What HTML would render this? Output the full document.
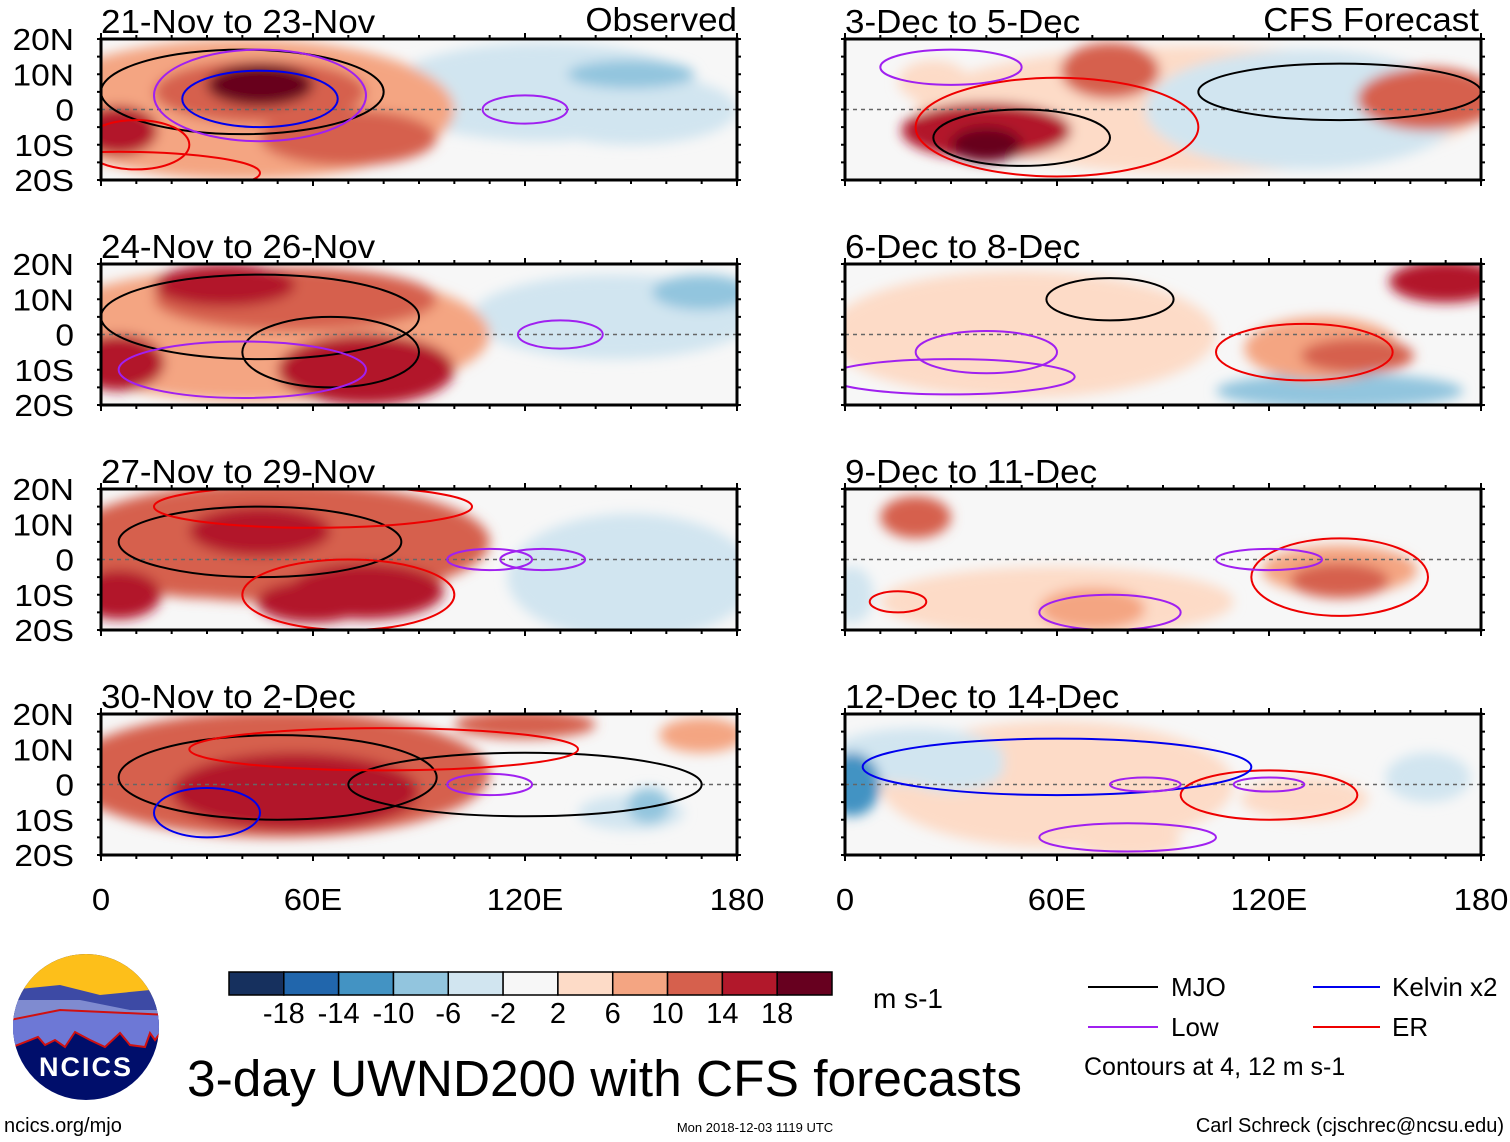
<!DOCTYPE html>
<html><head><meta charset="utf-8">
<style>
body{margin:0;background:#fff;width:1510px;height:1142px;overflow:hidden;font-family:"Liberation Sans",sans-serif;}
svg{position:absolute;left:0;top:0}
</style></head>
<body>
<svg id="chart" width="1510" height="1142" viewBox="0 0 1510 1142" font-family="Liberation Sans, sans-serif">
<defs>
<filter id="blur" x="-50%" y="-50%" width="200%" height="200%"><feGaussianBlur stdDeviation="6"/></filter>
</defs>
<g id="panels"></g>
<g id="bottom"></g>
</svg>
<script>
// ---- data ----
const panelTitles = ["21-Nov to 23-Nov","3-Dec to 5-Dec","24-Nov to 26-Nov","6-Dec to 8-Dec","27-Nov to 29-Nov","9-Dec to 11-Dec","30-Nov to 2-Dec","12-Dec to 14-Dec"];
const latTicks = ["20N","10N","0","10S","20S"];
const latValues = [20,10,0,-10,-20];
const lonTickLabels = ["0","60E","120E","180"];
const lonTickValues = [0,60,120,180];
const colorLevels = [-18,-14,-10,-6,-2,2,6,10,14,18];
const colorbarLabels = ["-18","-14","-10","-6","-2","2","6","10","14","18"];
const palette = ["#16305e","#2166ac","#4393c3","#92c5de","#d1e5f0","#f7f7f7","#fddbc7","#f4a582","#d6604d","#b2182b","#67001f"];
// anomaly blobs: [panel, lon, lat, value, lonRadius, latRadius]
const blobPanel = [0,0,0,0,0,0,0,0, 2,2,2,2,2,2,2,2, 4,4,4,4,4,4,4,4, 6,6,6,6,6,6,6, 1,1,1,1,1,1,1, 3,3,3,3,3,3,3, 5,5,5,5,5,5, 7,7,7,7,7,7,7];
const blobLon   = [40,125,150,45,5,45,150,70, 45,145,170,5,35,75,85,55, 150,50,45,75,5,60,150,30, 50,150,120,170,55,60,155, 100,130,40,75,165,40,25, 50,140,135,170,60,145,20, 60,140,20,2,140,70, 60,20,2,30,130,80,165];
const blobLat   = [0,5,0,5,-6,7,10,-8, 0,5,12,-8,14,-10,-10,10, -5,5,8,-9,-10,-12,-7,-3, 3,-8,17,14,-2,-3,-6, 0,0,-6,11,3,-10,8, 0,-16,-4,15,5,-6,3, -12,-3,12,-10,-6,-14, 0,8,0,5,-4,-16,2];
const blobVal   = [8,-3,-3,13,17,19,-8,11, 9,-3,-10,14,14,17,16,11, -3,10,16,16,17,14,-6,12, 10,-6,12,6,16,17,-9, 3,-3,16,11,13,18,4, 4,-8,9,16,3,12,5, 4,8,10,-6,11,6, 3,-5,-11,-5,5,5,-6];
const blobRx    = [60,45,30,30,11,15,18,25, 65,40,14,13,20,25,14,40, 35,60,20,22,12,16,12,25, 60,15,20,12,35,20,6, 80,45,24,14,20,10,10, 55,35,22,16,40,16,12, 50,22,10,6,14,15, 50,25,8,15,18,15,12];
const blobRy    = [20,14,10,9,7,6,4,8, 19,12,5,8,6,10,8,9, 18,17,7,8,7,6,6,8, 18,5,4,5,11,8,5, 18,17,8,8,9,5,6, 18,5,9,6,10,5,6, 10,7,6,8,5,6, 18,8,9,7,6,5,7];
// contours: [panel, lon, lat, lonRadius, latRadius, type] type 0=MJO 1=Kelvin 2=Low 3=ER
const cPanel=[0,0,0,0,0,0, 2,2,2,2, 4,4,4,4,4, 6,6,6,6,6, 1,1,1,1, 3,3,3,3, 5,5,5,5, 7,7,7,7,7];
const cLon  =[40,45,45,120,10,5, 45,65,130,40, 45,70,110,125,60, 50,110,120,80,30, 50,60,140,30, 40,75,130,30, 140,120,75,15, 120,120,80,60,85];
const cLat  =[5,3,4,0,-10,-18, 5,-5,0,-10, 5,-10,0,0,15, 2,0,0,10,-8, -8,-5,5,12, -5,10,-5,-12, -5,0,-15,-12, -3,0,-15,5,0];
const cRx   =[40,22,30,12,15,40, 45,25,12,35, 40,30,12,12,45, 45,12,50,55,15, 25,40,40,20, 20,18,25,35, 25,15,20,8, 25,10,25,55,10];
const cRy   =[12,8,13,4,7,6, 12,10,4,8, 10,10,3,3,6, 12,3,9,6,7, 8,14,8,5, 6,6,8,5, 11,3,5,3, 7,2,4,8,2];
const cType =[0,1,2,2,3,3, 0,0,2,2, 0,3,2,2,3, 0,2,0,3,1, 0,3,0,2, 2,0,3,2, 3,2,2,3, 3,2,2,1,2];
const cColors=["#000","#0000ee","#a020f0","#ee0000"];
// ---- layout ----
const colX=[101,845], panelW=636, rowY=[39,264,489,714], panelH=141;
const NS="http://www.w3.org/2000/svg";
function mk(t,a,p){const e=document.createElementNS(NS,t);for(const k in a)e.setAttribute(k,a[k]);p.appendChild(e);return e;}
function widen(t,f){const w=t.getComputedTextLength();t.setAttribute('textLength',w*f);t.setAttribute('lengthAdjust','spacingAndGlyphs');}
function colorFor(v){let i=0;while(i<colorLevels.length&&v>=colorLevels[i])i++;return palette[i];}
function px(p){return colX[p%2];}function py(p){return rowY[Math.floor(p/2)];}
function xs(p,lon){return px(p)+lon/180*panelW;}
function ys(p,lat){return py(p)+(20-lat)/40*panelH;}
const root=document.getElementById('panels');
for(let p=0;p<8;p++){
  const g=mk('g',{},root);
  
  
  const cp=mk('clipPath',{id:'clip'+p},g);
  mk('rect',{x:px(p),y:py(p),width:panelW,height:panelH},cp);
  mk('rect',{x:px(p),y:py(p),width:panelW,height:panelH,fill:'#f7f7f7'},g);
  const fg=mk('g',{'clip-path':'url(#clip'+p+')'},g);
  const bl=mk('g',{filter:'url(#blur)'},fg);
  const idx=blobPanel.map((q,i)=>i).filter(i=>blobPanel[i]===p).sort((a,b)=>Math.abs(blobVal[a])-Math.abs(blobVal[b]));
  for(const i of idx){
    const e=mk('ellipse',{cx:xs(p,blobLon[i]),cy:ys(p,blobLat[i]),rx:blobRx[i]/180*panelW,ry:blobRy[i]/40*panelH,fill:colorFor(blobVal[i])},bl);
    
    
  }
  mk('line',{x1:px(p),x2:px(p)+panelW,y1:ys(p,0),y2:ys(p,0),stroke:'#666','stroke-width':1.5,'stroke-dasharray':'4,4'},fg);
  cPanel.forEach((q,i)=>{if(q!==p)return;
    const e=mk('ellipse',{cx:xs(p,cLon[i]),cy:ys(p,cLat[i]),rx:cRx[i]/180*panelW,ry:cRy[i]/40*panelH,fill:'none',stroke:cColors[cType[i]],'stroke-width':2},fg);
    
    
  });
  mk('rect',{x:px(p),y:py(p),width:panelW,height:panelH,fill:'none',stroke:'#000','stroke-width':3},g);
  for(let l=0;l<=180;l+=10){const big=l%60===0;
    mk('line',{x1:xs(p,l),x2:xs(p,l),y1:py(p)+panelH,y2:py(p)+panelH+(big?6:4),stroke:'#000','stroke-width':2},g);
    mk('line',{x1:xs(p,l),x2:xs(p,l),y1:py(p),y2:py(p)-(big?6:4),stroke:'#000','stroke-width':2},g);}
  for(let a=-20;a<=20;a+=5){mk('line',{x1:px(p)-4,x2:px(p),y1:ys(p,a),y2:ys(p,a),stroke:'#000','stroke-width':2},g);
    mk('line',{x1:px(p)+panelW,x2:px(p)+panelW+4,y1:ys(p,a),y2:ys(p,a),stroke:'#000','stroke-width':2},g);}
  const t=mk('text',{x:px(p),y:py(p)-6,'font-size':33,fill:'#000'},g);t.textContent=panelTitles[p];
  
  
  widen(t,1.06);
  if(p%2===0){latValues.forEach((v,i)=>{const tt=mk('text',{x:74,y:ys(p,v)+11,'font-size':31,'text-anchor':'end'},g);tt.textContent=latTicks[i];
    
    
    widen(tt,1.08);});}
  if(p>=6){lonTickValues.forEach((v,i)=>{const tt=mk('text',{x:xs(p,v),y:910,'font-size':31,'text-anchor':'middle'},g);tt.textContent=lonTickLabels[i];
    
    
    widen(tt,1.06);});}
}
const h1=mk('text',{x:737,y:31,'font-size':33,'text-anchor':'end'},root);h1.textContent='Observed';


widen(h1,1.06);
const h2=mk('text',{x:1479,y:31,'font-size':33,'text-anchor':'end'},root);h2.textContent='CFS Forecast';


widen(h2,1.06);
// colorbar
const b=document.getElementById('bottom');
const cb=mk('g',{},b);


const bw=603/11;
palette.forEach((c,i)=>mk('rect',{x:229+i*bw,y:972,width:bw,height:23,fill:c,stroke:'#000','stroke-width':1.5},cb));
colorbarLabels.forEach((s,i)=>{const t=mk('text',{x:229+(i+1)*bw,y:1023,'font-size':29,'text-anchor':'middle'},cb);t.textContent=s;});
const u=mk('text',{x:873,y:1008,'font-size':28},b);u.textContent='m s-1';


</script>
<svg width="1510" height="1142" style="pointer-events:none">
<g>
<clipPath id="lc"><circle cx="86" cy="1027" r="73"/></clipPath>
<g clip-path="url(#lc)">
<rect x="10" y="950" width="160" height="160" fill="#000e6b"/>
<rect x="10" y="950" width="160" height="45" fill="#fdbf1a"/>
<path d="M10 990 L60 985 L100 995 L150 990 L170 985 L170 1020 L10 1035Z" fill="#3d4aa5"/>
<path d="M10 1000 L80 1000 L130 1010 L170 1010 L170 1020 L10 1040Z" fill="#7f8bd0"/>
<path d="M10 1020 L60 1010 L170 1015 L170 1020 L155 1040 L150 1033 L145 1047 L130 1045 L120 1033 L105 1047 L90 1040 L75 1032 L65 1047 L55 1040 L45 1045 L38 1037 L10 1048Z" fill="#6d78d6" stroke="#d01010" stroke-width="2"/>
</g>
<text x="86" y="1076" font-size="27" font-weight="bold" fill="#fff" text-anchor="middle" letter-spacing="2">NCICS</text>
</g>
<text x="187" y="1096" font-size="51" textLength="835" lengthAdjust="spacingAndGlyphs">3-day UWND200 with CFS forecasts</text>
<text x="4" y="1132" font-size="20">ncics.org/mjo</text>
<text x="755" y="1132" font-size="13" text-anchor="middle">Mon 2018-12-03 1119 UTC</text>
<text x="1504" y="1132" font-size="20" text-anchor="end">Carl Schreck (cjschrec@ncsu.edu)</text>
<g font-size="26">
<line x1="1088" x2="1158" y1="987" y2="987" stroke="#000" stroke-width="2"/><text x="1171" y="996">MJO</text>
<line x1="1313" x2="1380" y1="987" y2="987" stroke="#0000ee" stroke-width="2"/><text x="1392" y="996">Kelvin x2</text>
<line x1="1088" x2="1158" y1="1027" y2="1027" stroke="#a020f0" stroke-width="2"/><text x="1171" y="1036">Low</text>
<line x1="1313" x2="1380" y1="1027" y2="1027" stroke="#ee0000" stroke-width="2"/><text x="1392" y="1036">ER</text>
<text x="1084" y="1075" font-size="25">Contours at 4, 12 m s-1</text>
</g>
</svg>
</body></html>
